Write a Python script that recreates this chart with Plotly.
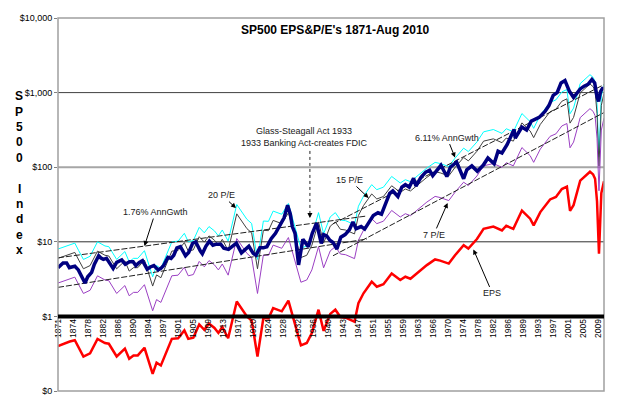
import math
import plotly.graph_objects as go

# ---------------- data ----------------
INDEX_YEARS = [1871.0, 1871.5, 1872.3, 1873.2, 1873.9, 1874.5, 1875.3, 1876.2, 1877.3, 1877.9,
               1878.6, 1879.6, 1880.3, 1881.4, 1881.9, 1882.6, 1883.4, 1884.4, 1885.1, 1886.0,
               1887.3, 1888.2, 1889.3, 1890.2, 1890.9, 1891.8, 1892.6, 1893.3, 1893.8, 1894.6,
               1895.5, 1896.6, 1897.3, 1898.0, 1899.1, 1899.9, 1900.6, 1901.4, 1902.3, 1903.6,
               1904.4, 1905.4, 1906.2, 1907.4, 1907.9, 1908.8, 1909.7, 1910.6, 1911.5, 1912.6,
               1913.4, 1914.6, 1915.7, 1916.6, 1917.9, 1918.8, 1919.8, 1920.9, 1921.6, 1922.6,
               1923.5, 1924.4, 1925.5, 1926.6, 1927.8, 1928.8, 1929.7, 1930.4, 1930.9, 1931.6,
               1932.5, 1933.6, 1934.5, 1935.0, 1936.0, 1937.1, 1938.3, 1938.9, 1939.7, 1940.5,
               1941.3, 1942.3, 1943.3, 1944.4, 1945.5, 1946.4, 1947.2, 1948.5, 1949.4, 1950.5,
               1951.6, 1952.8, 1953.7, 1954.9, 1955.8, 1956.6, 1957.9, 1958.9, 1959.8, 1960.8,
               1961.9, 1962.5, 1963.8, 1965.0, 1966.0, 1966.8, 1968.1, 1968.9, 1970.4, 1971.3,
               1972.9, 1974.7, 1975.5, 1976.8, 1978.2, 1979.7, 1980.9, 1982.5, 1983.5, 1984.5,
               1985.8, 1987.6, 1987.9, 1989.6, 1990.8, 1992.0, 1994.0, 1995.5, 1996.5, 1997.6,
               1998.6, 1999.6, 2000.6, 2001.7, 2002.8, 2003.4, 2004.5, 2005.5, 2006.5, 2007.5,
               2008.2, 2008.8, 2009.2, 2009.7, 2010.3, 2010.58]
INDEX_VALUES = [4.5, 4.8, 5.2, 5.2, 4.5, 4.6, 4.7, 4.2, 3.2, 2.8,
                3.4, 3.9, 5.0, 6.5, 6.1, 5.8, 6.0, 4.9, 4.4, 5.3,
                5.7, 5.0, 5.4, 5.4, 4.8, 5.3, 5.6, 4.8, 4.3, 4.6,
                4.8, 4.2, 4.4, 4.8, 6.2, 6.0, 6.6, 8.3, 8.6, 6.5,
                7.2, 9.5, 10.0, 7.5, 6.9, 8.7, 10.2, 9.0, 9.3, 9.3,
                8.2, 7.9, 8.8, 9.6, 7.1, 7.8, 8.7, 7.0, 6.6, 8.3,
                8.3, 8.6, 11.0, 13.0, 16.5, 21.0, 31.0, 23.5, 16.0, 13.0,
                4.9, 10.8, 9.3, 8.6, 13.0, 17.8, 9.5, 12.5, 12.0, 10.5,
                9.8, 8.0, 11.5, 12.5, 14.5, 18.5, 15.0, 16.0, 14.8, 18.5,
                22.5, 24.5, 23.5, 34.0, 44.5, 48.0, 40.5, 54.0, 58.5, 54.0,
                71.0, 56.0, 73.0, 86.0, 91.0, 77.0, 92.0, 106.0, 75.0, 100.0,
                117.0, 70.0, 92.0, 104.0, 88.0, 106.0, 133.0, 111.0, 164.0, 155.0,
                200.0, 320.0, 245.0, 345.0, 315.0, 415.0, 465.0, 560.0, 670.0, 920.0,
                1000.0, 1350.0, 1450.0, 1050.0, 860.0, 940.0, 1120.0, 1220.0, 1290.0, 1500.0,
                1350.0, 880.0, 760.0, 1030.0, 1170.0, 1090.0]

EPS_YEARS = [1871.0, 1872.5, 1874.0, 1875.3, 1876.3, 1877.5, 1879.2, 1881.1, 1883.0, 1884.0,
             1886.0, 1888.1, 1889.2, 1890.3, 1891.4, 1893.1, 1895.2, 1896.2, 1897.3, 1898.4,
             1900.1, 1901.7, 1903.3, 1904.3, 1905.6, 1907.1, 1908.4, 1909.6, 1911.0, 1912.0,
             1913.0, 1914.5, 1916.7, 1919.3, 1920.5, 1922.0, 1923.5, 1924.8, 1926.0, 1928.2,
             1929.9, 1933.1, 1934.6, 1935.9, 1937.6, 1938.9, 1940.6, 1941.9, 1943.2, 1944.5,
             1945.8, 1946.8, 1947.8, 1949.1, 1951.2, 1952.5, 1954.2, 1956.3, 1958.5, 1959.8,
             1961.1, 1963.2, 1965.3, 1967.4, 1968.7, 1970.9, 1972.5, 1974.7, 1975.9, 1978.1,
             1979.8, 1982.3, 1984.5, 1985.6, 1987.4, 1989.6, 1991.7, 1992.6, 1994.3, 1996.8,
             1998.3, 1999.8, 2001.1, 2001.9, 2002.8, 2004.5, 2007.0, 2007.8, 2008.3, 2008.8,
             2009.3, 2009.9, 2010.58]
EPS_VALUES = [0.40, 0.43, 0.46, 0.48, 0.38, 0.29, 0.32, 0.50, 0.44, 0.43,
              0.29, 0.37, 0.27, 0.30, 0.30, 0.38, 0.17, 0.24, 0.22, 0.31,
              0.50, 0.51, 0.65, 0.50, 0.52, 0.78, 0.66, 0.80, 0.70, 0.60,
              0.72, 0.51, 1.58, 1.00, 0.88, 0.29, 0.95, 0.94, 1.29, 1.17,
              1.63, 0.41, 0.44, 0.60, 1.23, 0.64, 1.08, 1.23, 0.98, 0.96,
              0.90, 0.85, 1.50, 2.04, 2.92, 2.50, 2.70, 3.76, 3.07, 3.40,
              3.20, 3.96, 4.87, 5.80, 5.60, 5.10, 6.60, 9.00, 8.10, 10.9,
              14.9, 16.0, 14.2, 16.4, 14.9, 26.2, 20.4, 16.6, 25.0, 37.0,
              40.0, 51.0, 55.0, 26.0, 31.0, 66.0, 87.0, 80.0, 70.0, 35.0,
              6.9, 45.0, 65.0]

# price/earnings bands drawn as multiples of EPS
PE_NAMES = ["20 P/E", "15 P/E", "7 P/E"]
PE_MULTIPLES = [20, 15, 7]

# growth trend lines (end points)
TREND_EARLY_YEARS = [1871.0, 1950.0]
TREND_EARLY_UPPER = [6.1, 22.2]
TREND_EARLY_LOWER = [2.45, 10.9]
TREND_LATE_YEARS = [1941.3, 2010.58]
TREND_LATE_UPPER = [17.4, 1280.0]
TREND_LATE_LOWER = [6.5, 540.0]

X_TICK_LABELS = ["1871", "1874", "1878", "1882", "1886", "1890", "1894", "1897", "1901",
                 "1905", "1909", "1913", "1917", "1920", "1924", "1928", "1932", "1936",
                 "1940", "1943", "1947", "1951", "1955", "1959", "1963", "1966", "1970",
                 "1974", "1978", "1982", "1986", "1989", "1993", "1997", "2001", "2005", "2009"]
Y_TICK_VALUES = [0.1, 1, 10, 100, 1000, 10000]
Y_TICK_LABELS = ["$0", "$1", "$10", "$100", "$1,000", "$10,000"]

TITLE = "SP500 EPS&P/E's 1871-Aug 2010"
Y_TITLE = "SP500 Index"

# ---------------- figure ----------------
W, H = 624, 408
L, R, T, B = 58, 20, 18, 14
PW, PH = W - L - R, H - T - B
FONT = "Arial, Liberation Sans, sans-serif"
X0, X1 = 1871.0, 1871.0 + 1675 / 12.0


def px(xp):
    return (xp - L) / PW


def py(yp):
    return (H - B - yp) / PH


fig = go.Figure()

pe_colors = ["#00FFFF", "#404040", "#9B3FC3"]
for name, mult, col in zip(PE_NAMES, PE_MULTIPLES, pe_colors):
    fig.add_trace(go.Scatter(x=EPS_YEARS, y=[v * mult for v in EPS_VALUES], mode="lines",
                             name=name, line=dict(color=col, width=1)))

for yrs, vals in [(TREND_EARLY_YEARS, TREND_EARLY_UPPER), (TREND_EARLY_YEARS, TREND_EARLY_LOWER),
                  (TREND_LATE_YEARS, TREND_LATE_UPPER), (TREND_LATE_YEARS, TREND_LATE_LOWER)]:
    fig.add_trace(go.Scatter(x=yrs, y=vals, mode="lines",
                             line=dict(color="#202020", width=1, dash="6px,2px")))

fig.add_trace(go.Scatter(x=INDEX_YEARS, y=INDEX_VALUES, mode="lines", name="SP500",
                         line=dict(color="#000080", width=3.5)))
fig.add_trace(go.Scatter(x=EPS_YEARS, y=EPS_VALUES, mode="lines", name="EPS",
                         line=dict(color="#FF0000", width=2.5)))

shapes = []
for val, col, wd in [(1000, "#404040", 1), (100, "#A6A6A6", 2), (10, "#303030", 1)]:
    shapes.append(dict(type="line", xref="paper", x0=0, x1=1, yref="y", y0=val, y1=val,
                       line=dict(color=col, width=wd), layer="below"))
shapes.append(dict(type="rect", xref="paper", yref="paper", x0=0, x1=1, y0=0, y1=1,
                   line=dict(color="#A0A0A0", width=1.5)))
shapes.append(dict(type="line", xref="paper", x0=0, x1=1, yref="y", y0=1, y1=1,
                   line=dict(color="#000000", width=4)))

annotations = [
    dict(text="<b>" + TITLE + "</b>", xref="paper", yref="paper", x=px(335), y=py(30),
         xanchor="center", yanchor="middle", showarrow=False,
         font=dict(size=12, color="#000000", family=FONT)),
]
for k, ch in enumerate(Y_TITLE):
    if ch == " ":
        continue
    annotations.append(dict(text="<b>" + ch + "</b>", xref="paper", yref="paper",
                            x=px(19), y=py(97 + k * 15.5), xanchor="center", yanchor="middle",
                            showarrow=False, font=dict(size=12, color="#000000", family=FONT)))

notes = [
    ("20 P/E", 1916.5, 28.3, -14, -13),
    ("1.76% AnnGwth", 1893.1, 8.77, 11, -34),
    ("15 P/E", 1950.4, 38.7, -19, -18),
    ("6.11% AnnGwth", 1972.5, 134.6, -8, -20),
    ("7 P/E", 1970.6, 33.2, -14, 32),
    ("EPS", 1977.2, 7.9, 19, 44),
]
for txt, xv, yv, ax, ay in notes:
    annotations.append(dict(text=txt, x=xv, y=math.log10(yv), xref="x", yref="y",
                            ax=ax, ay=ay, showarrow=True, arrowhead=2, arrowsize=1,
                            arrowwidth=1, arrowcolor="#000000",
                            font=dict(size=9, color="#202020", family=FONT)))

gs_x = 1935.4
annotations.append(dict(text="Glass-Steagall Act 1933<br>1933 Banking Act-creates FDIC",
                        xref="paper", yref="paper", x=px(304), y=py(138), xanchor="center",
                        yanchor="middle", showarrow=False,
                        font=dict(size=9, color="#202020", family=FONT)))
shapes.append(dict(type="line", xref="x", yref="paper", x0=gs_x, x1=gs_x, y0=py(152), y1=py(216),
                   line=dict(color="#202020", width=1, dash="dot")))
annotations.append(dict(text="", x=gs_x, y=math.log10(20.9), xref="x", yref="y", ax=0, ay=-6,
                        showarrow=True, arrowhead=2, arrowsize=1, arrowwidth=1,
                        arrowcolor="#000000"))

tick_pos = [X0 + i * 46 / 12.0 for i in range(len(X_TICK_LABELS))]

fig.update_layout(
    width=W, height=H, margin=dict(l=L, r=R, t=T, b=B),
    paper_bgcolor="white", plot_bgcolor="white",
    showlegend=False, hovermode=False,
    font=dict(family=FONT, size=9, color="#000000"),
    shapes=shapes, annotations=annotations,
    xaxis=dict(range=[X0, X1], anchor="free", position=0.2, tickvals=tick_pos,
               ticktext=X_TICK_LABELS, tickangle=-90, showgrid=False, zeroline=False,
               showline=False, ticks="", tickfont=dict(size=8.5, family=FONT, color="#000000")),
    yaxis=dict(type="log", range=[-1, 4], tickvals=Y_TICK_VALUES, ticktext=Y_TICK_LABELS,
               showgrid=False, zeroline=False, showline=False, ticks="outside", ticklen=3,
               tickcolor="#808080", tickfont=dict(size=9, family=FONT, color="#000000")),
)

fig.write_html("out.html")
